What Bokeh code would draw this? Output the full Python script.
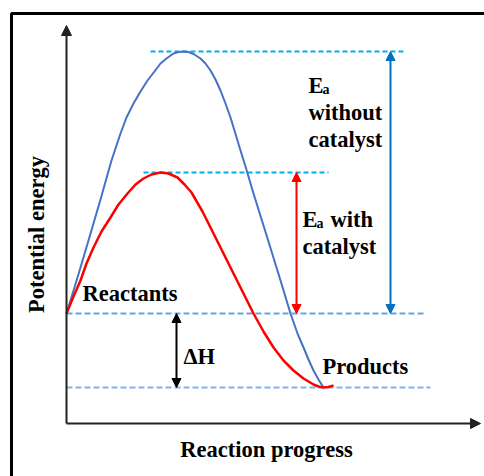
from bokeh.plotting import figure
from bokeh.models import Range1d, Arrow, NormalHead
from bokeh.core.properties import value
from bokeh.embed import file_html
from bokeh.resources import INLINE
import math

# ---- data (reaction progress vs potential energy, arbitrary units) ----
uncat_progress = [0, 11, 22, 34, 45, 54, 60, 67, 74, 81, 88, 94, 100, 107, 112, 117, 122, 127, 134, 139,
                  144, 149, 154, 159, 164, 174, 179, 187, 197, 206, 214, 224, 231, 237, 242, 247, 252, 257]
uncat_energy = [110, 146, 183, 224, 263, 290, 306, 320, 332, 343, 352, 360, 365, 370, 371.5, 372, 371.5, 369.5, 365, 360,
                353, 344, 333, 320, 306, 273, 257, 230, 198, 169, 143, 110, 90, 76, 64, 53, 44, 36]

cat_progress = [0, 7, 14, 20, 27, 35, 44, 52, 61, 69, 77, 85, 94, 102, 111, 118, 125, 136, 147, 157, 167,
                177, 187, 197, 207, 217, 227, 237, 247, 252, 257, 262, 267]
cat_energy = [110, 127, 143, 160, 176, 192, 206, 219, 230, 239, 245, 249, 251, 250, 246, 239, 231, 212, 190, 170, 150,
              130, 110, 92, 76, 63, 53, 45, 39, 37, 36, 36.5, 38]

reactant_energy = 110
product_energy = 36
peak_uncat = 372
peak_cat = 251

FONT = value("Liberation Serif")
FS = "22.5px"

p = figure(width=484, height=476, output_backend="svg", toolbar_location=None,
           x_range=Range1d(-66, 418), y_range=Range1d(-53, 423),
           x_axis_type=None, y_axis_type=None, min_border=0)
p.outline_line_color = None
p.xgrid.visible = False
p.ygrid.visible = False

# outer frame (top and left edges visible)
p.line([-55, -55, 430], [-60, 410, 410], line_color="black", line_width=3)

# dashed reference levels
p.line([84, 339], [peak_uncat, peak_uncat], line_color="#00B0F0", line_width=2, line_dash="5 3")
p.line([77, 262], [peak_cat, peak_cat], line_color="#00B0F0", line_width=2, line_dash="5 3")
p.line([0, 359], [reactant_energy, reactant_energy], line_color="#6AA3DC", line_width=2, line_dash="6 3")
p.line([0, 364], [product_energy, product_energy], line_color="#7FB2E5", line_width=2, line_dash="6 3")

# curves
p.line(uncat_progress, uncat_energy, line_color="#4472C4", line_width=2, line_join="round")
p.line(cat_progress, cat_energy, line_color="#FF0000", line_width=2.5, line_join="round")

# axes as arrows
p.add_layout(Arrow(x_start=0, y_start=0, x_end=0, y_end=398, line_color="#222222", line_width=2,
                   end=NormalHead(size=10, fill_color="#222222", line_color="#222222")))
p.add_layout(Arrow(x_start=0, y_start=0, x_end=414, y_end=0, line_color="#222222", line_width=2,
                   end=NormalHead(size=10, fill_color="#222222", line_color="#222222")))

# energy arrows
def dbl(x, y0, y1, color):
    p.add_layout(Arrow(x_start=x, y_start=y0, x_end=x, y_end=y1, line_color=color, line_width=2,
                       start=NormalHead(size=9, fill_color=color, line_color=color),
                       end=NormalHead(size=9, fill_color=color, line_color=color)))

dbl(324, reactant_energy, peak_uncat, "#0070C0")
dbl(230, reactant_energy, peak_cat, "#FF0000")
dbl(110, product_energy, reactant_energy, "black")

def txt(x, y, s, size=FS, align="left", angle=0):
    p.text(x=[x], y=[y], text=[s], text_font=FONT, text_font_style="bold",
           text_font_size=size, text_align=align, text_baseline="alphabetic",
           text_color="black", angle=angle)

# Ea without catalyst
txt(242, 338, "E")
txt(256, 334, "a", size="14px")
txt(242, 311, "without")
txt(242, 284, "catalyst")

# Ea with catalyst
txt(236, 204, "E")
txt(250, 200, "a", size="14px")
txt(264, 204, "with")
txt(236, 177, "catalyst")

txt(16, 130, "Reactants")
txt(117, 67, "ΔH")
txt(256, 57, "Products")

txt(200, -26, "Reaction progress", align="center")
txt(-30, 189, "Potential energy", align="center", angle=math.pi / 2)

open("out.html", "w").write(file_html(p, INLINE))
